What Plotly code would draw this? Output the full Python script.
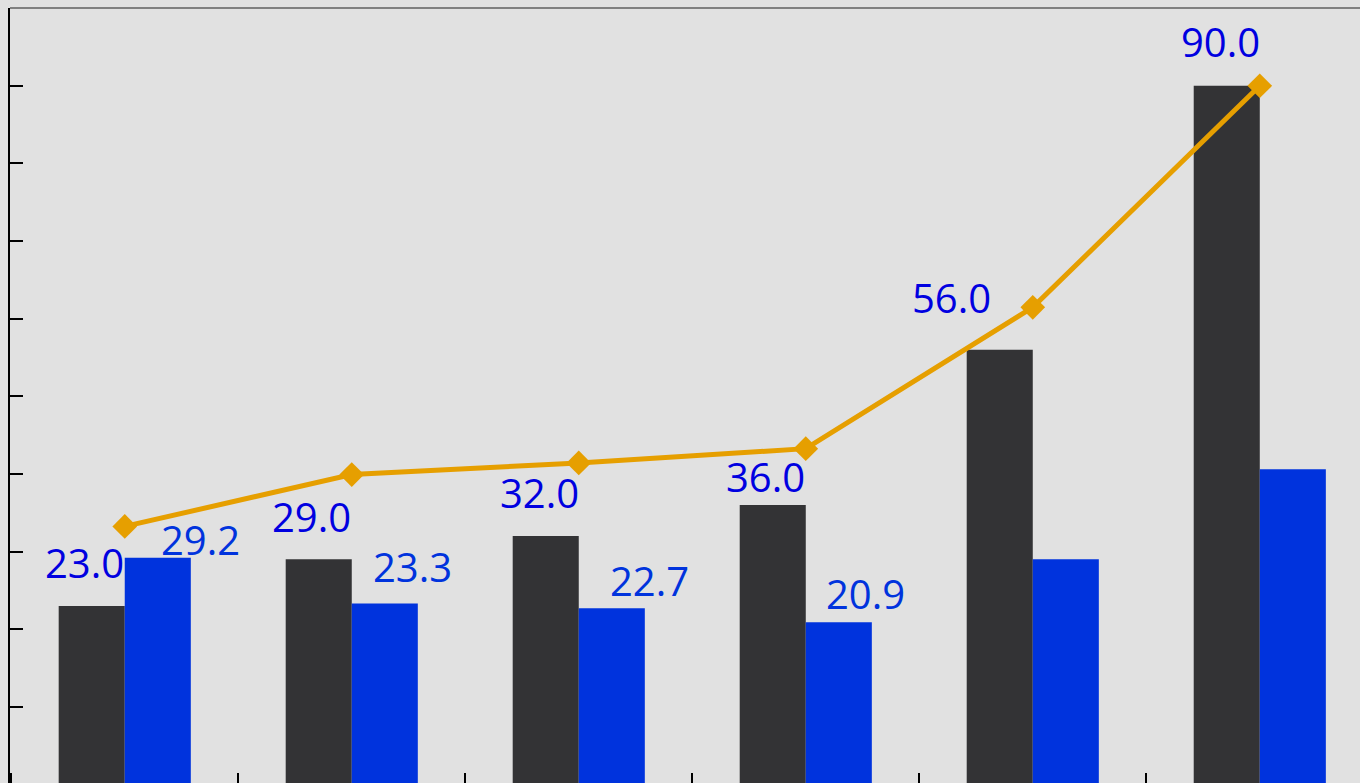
import plotly.graph_objects as go

categories = ["C1", "C2", "C3", "C4", "C5", "C6"]
dark_values = [23.0, 29.0, 32.0, 36.0, 56.0, 90.0]
blue_values = [29.2, 23.3, 22.7, 20.9, 29.0, 40.6]
line_values = [20.0, 24.0, 24.9, 26.0, 36.9, 54.0]

dark_labels = ["23.0", "29.0", "32.0", "36.0", "56.0", "90.0"]
blue_labels = ["29.2", "23.3", "22.7", "20.9"]

# label offsets (style, pixels)
dark_dx = [-7, -7, -6, -7, -48, -6]
dark_dy = [41, 41, 42, 26, 50, 42]
blue_dx = [43, 28, 38, 27]
blue_dy = [16, 35, 26, 27]

DARK = "#333335"
BLUE = "#0033dd"
ORANGE = "#E69F00"
BG = "#e1e1e1"
FONT = "Open Sans"

fig = go.Figure()
fig.add_trace(go.Bar(x=categories, y=dark_values, marker_color=DARK,
                     marker_line_width=0, offsetgroup="a", showlegend=False))
fig.add_trace(go.Bar(x=categories, y=blue_values, marker_color=BLUE,
                     marker_line_width=0, offsetgroup="b", showlegend=False))
fig.add_trace(go.Scatter(x=categories, y=line_values, yaxis="y2", mode="lines+markers",
                         line=dict(color=ORANGE, width=5),
                         marker=dict(symbol="diamond", size=19, color=ORANGE),
                         showlegend=False))

ann = []
for i, t in enumerate(dark_labels):
    ann.append(dict(x=i - 0.145, y=dark_values[i], xref="x", yref="y", text=t,
                    showarrow=False, xanchor="center", yanchor="middle",
                    xshift=dark_dx[i], yshift=dark_dy[i] + 2,
                    font=dict(family=FONT, size=40, color="#0000e0")))
for i, t in enumerate(blue_labels):
    ann.append(dict(x=i + 0.145, y=blue_values[i], xref="x", yref="y", text=t,
                    showarrow=False, xanchor="center", yanchor="middle",
                    xshift=blue_dx[i], yshift=blue_dy[i] + 2,
                    font=dict(family=FONT, size=40, color=BLUE)))

fig.update_layout(
    width=1360, height=783,
    margin=dict(l=10, r=0, t=8, b=0, pad=0),
    paper_bgcolor=BG, plot_bgcolor=BG,
    barmode="group", bargap=0.418, bargroupgap=0,
    showlegend=False,
    annotations=ann,
    xaxis=dict(type="category", range=[-0.5055, 5.4415], showgrid=False, zeroline=False,
               showline=False, showticklabels=False, ticks="inside", ticklen=10,
               tickwidth=2, tickcolor="black", tickson="boundaries"),
    yaxis=dict(range=[0.2, 100], tick0=0, dtick=10, showgrid=False, zeroline=False,
               showline=True, linecolor="black", linewidth=2,
               ticks="inside", ticklen=13, tickwidth=2, tickcolor="black",
               showticklabels=False),
    yaxis2=dict(range=[0.2, 60], overlaying="y", side="right", showgrid=False,
                zeroline=False, showline=False, showticklabels=False, ticks=""),
    shapes=[dict(type="line", xref="paper", yref="paper", x0=0, x1=1, y0=1, y1=1,
                 line=dict(color="#808080", width=2), layer="below")],
)

fig.write_html(
    "out.html",
    config={"displayModeBar": False},
    post_script="document.body.style.margin='0';document.body.style.padding='0';"
                "document.body.style.overflow='hidden';"
                "document.documentElement.style.overflow='hidden';",
)
